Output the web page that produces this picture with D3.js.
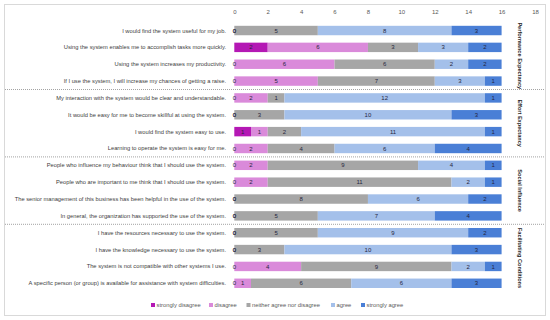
<!DOCTYPE html>
<html>
<head>
<meta charset="utf-8">
<script src="https://cdn.jsdelivr.net/npm/d3@7"></script>
<style>
	body { margin: 0; background: #fff; }
	text { font-family: 'Liberation Sans', Arial, sans-serif; }
</style>
</head>
<body>
<div id="chart"></div>
<script>
const questions = [
	'I would find the system useful for my job.',
	'Using the system enables me to accomplish tasks more quickly.',
	'Using the system increases my productivity.',
	'If I use the system, I will increase my chances of getting a raise.',
	'My interaction with the system would be clear and understandable.',
	'It would be easy for me to become skillful at using the system.',
	'I would find the system easy to use.',
	'Learning to operate the system is easy for me.',
	'People who influence my behaviour think that I should use the system.',
	'People who are important to me think that I should use the system.',
	'The senior management of this business has been helpful in the use of the system.',
	'In general, the organization has supported the use of the system.',
	'I have the resources necessary to use the system.',
	'I have the knowledge necessary to use the system.',
	'The system is not compatible with other systems I use.',
	'A specific person (or group) is available for assistance with system difficulties.'
]

const groups = ['Performance Expectancy', 'Effort Expectancy', 'Social Influence', 'Facilitating Conditions']

const answers = ['strongly disagree', 'disagree', 'neither agree nor disagree', 'agree', 'strongly agree']

const stronglyDisagree = [0, 2, 0, 0, 0, 0, 1, 0, 0, 0, 0, 0, 0, 0, 0, 0]
const disagree = [0, 6, 6, 5, 2, 0, 1, 2, 2, 2, 0, 0, 0, 0, 4, 1]
const neutral = [5, 3, 6, 7, 1, 3, 2, 4, 9, 11, 8, 5, 5, 3, 9, 6]
const agree = [8, 3, 2, 3, 12, 10, 11, 6, 4, 2, 6, 7, 9, 10, 2, 6]
const stronglyAgree = [3, 2, 2, 1, 1, 3, 1, 4, 1, 1, 2, 4, 2, 3, 1, 3]

const xTicks = [0, 2, 4, 6, 8, 10, 12, 14, 16, 18]

const colors = ['#b418b4', '#da8ada', '#a6a6a6', '#a4c0ea', '#4a7fd6']

const width = 550
const height = 320

const svg = d3.select('#chart')
	.append('svg')
	.attr('width', width)
	.attr('height', height)

// outer chart border
svg.append('rect')
	.attr('x', 4.5).attr('y', 4.5)
	.attr('width', 541).attr('height', 311)
	.attr('fill', '#fff')
	.attr('stroke', '#d9d9d9')
	.attr('stroke-width', 1)

const x = d3.scaleLinear().domain([0, 18]).range([234.3, 535])

const y = d3.scaleBand()
	.domain(questions)
	.range([22.1, 291.7])
	.paddingInner(0.44)
	.paddingOuter(0.22)

// top tick labels, no axis line
const axis = svg.append('g')
	.attr('transform', `translate(0, 12)`)
	.call(d3.axisTop(x).tickValues(xTicks).tickSize(0).tickPadding(0))
axis.select('.domain').remove()
axis.selectAll('text')
	.attr('fill', '#595959')
	.style('font-size', '6px')
	.attr('dy', '0.35em')

const rows = questions.map((q, i) => {
	const vals = [stronglyDisagree[i], disagree[i], neutral[i], agree[i], stronglyAgree[i]]
	let acc = 0
	return vals.map((v, k) => {
		const seg = { q, k, v, x0: acc, x1: acc + v }
		acc += v
		return seg
	})
})

const segs = rows.flat()

svg.append('g')
	.selectAll('rect')
	.data(segs.filter(d => d.v > 0))
	.join('rect')
	.attr('x', d => x(d.x0))
	.attr('y', d => y(d.q))
	.attr('width', d => x(d.x1) - x(d.x0))
	.attr('height', y.bandwidth())
	.attr('fill', d => colors[d.k])

// value labels, zeros sit on the bar start like Excel does
svg.append('g')
	.selectAll('text')
	.data(segs)
	.join('text')
	.attr('x', d => x((d.x0 + d.x1) / 2))
	.attr('y', d => y(d.q) + y.bandwidth() / 2)
	.attr('dy', '0.35em')
	.attr('text-anchor', 'middle')
	.attr('fill', '#262640')
	.style('font-size', '6px')
	.text(d => d.v)

// question labels
svg.append('g')
	.selectAll('text')
	.data(questions)
	.join('text')
	.attr('x', 226)
	.attr('y', d => y(d) + y.bandwidth() / 2)
	.attr('dy', '0.35em')
	.attr('text-anchor', 'end')
	.attr('fill', '#404040')
	.style('font-size', '5.75px')
	.text(d => d)

// group separators and titles
const perGroup = questions.length / groups.length
groups.forEach((g, i) => {
	const first = questions[i * perGroup]
	const last = questions[(i + 1) * perGroup - 1]
	const top = y(first) - (y.step() - y.bandwidth()) / 2
	const bottom = y(last) + y.bandwidth() + (y.step() - y.bandwidth()) / 2
	if (i > 0) {
		svg.append('line')
			.attr('x1', 5).attr('x2', 545)
			.attr('y1', top).attr('y2', top)
			.attr('stroke', '#8c8c8c')
			.attr('stroke-width', 0.8)
			.attr('stroke-dasharray', '1,1')
	}
	svg.append('text')
		.attr('transform', `translate(520, ${(top + bottom) / 2}) rotate(90)`)
		.attr('text-anchor', 'middle')
		.attr('dy', '0.35em')
		.attr('fill', '#262626')
		.style('font-size', '5.6px')
		.style('font-weight', 'bold')
		.text(g)
})

// legend
const legendX = [151, 209, 246.5, 331, 361]
const legend = svg.append('g')
	.selectAll('g')
	.data(answers)
	.join('g')
	.attr('transform', (d, i) => `translate(${legendX[i]}, 305)`)
legend.append('rect')
	.attr('x', 0).attr('y', -2)
	.attr('width', 4).attr('height', 4)
	.attr('fill', (d, i) => colors[i])
legend.append('text')
	.attr('x', 5.5)
	.attr('dy', '0.35em')
	.attr('fill', '#595959')
	.style('font-size', '5.8px')
	.text(d => d)
</script>
</body>
</html>
